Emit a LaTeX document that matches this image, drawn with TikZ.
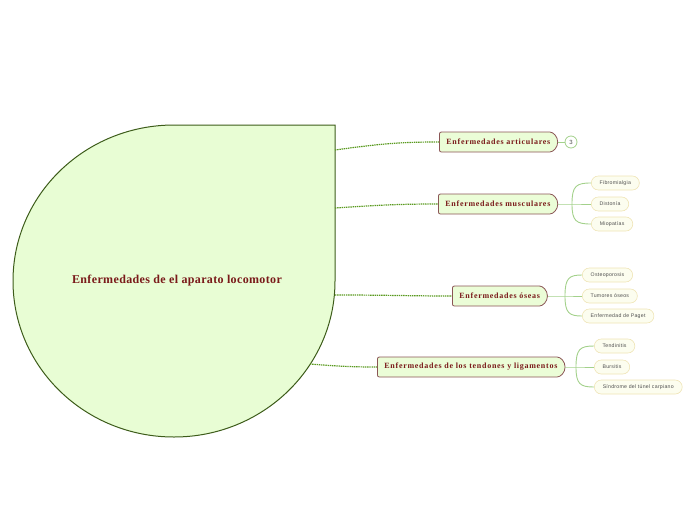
\documentclass[tikz,border=0pt]{standalone}
\usepackage{fontspec}
\setmainfont{Liberation Serif}
\newfontfamily\mainbold[LetterSpace=9]{Liberation Serif}
\newfontfamily\rootfont[LetterSpace=3]{Liberation Serif}
\newfontfamily\childfont[LetterSpace=5]{Liberation Sans}
\newfontfamily\countfont{Liberation Sans}
\usetikzlibrary{shapes.misc}
\definecolor{centerfill}{HTML}{E8FDD4}
\definecolor{centerline}{HTML}{3D5C1A}
\definecolor{textred}{HTML}{7A1A1A}
\definecolor{boxfill}{HTML}{EBFDD7}
\definecolor{boxline}{HTML}{8A5555}
\definecolor{dotgreen}{HTML}{5A9A20}
\definecolor{branchc}{HTML}{A3D18B}
\definecolor{childfill}{HTML}{FCFDEF}
\definecolor{childline}{HTML}{EFE4B5}
\definecolor{childtext}{HTML}{505050}
\begin{document}
\begin{tikzpicture}[x=1pt,y=-1pt,
  mainnode/.style={rounded rectangle, rounded rectangle left arc=none, rounded corners=2pt,
    draw=boxline, fill=boxfill,
    line width=0.8pt, minimum height=20pt, inner xsep=7pt, inner ysep=0pt, anchor=west,
    font=\mainbold\bfseries\fontsize{8}{9}\selectfont, text=textred},
  childnode/.style={rounded rectangle, draw=childline, fill=childfill, line width=0.6pt,
    minimum height=14pt, inner xsep=8pt, inner ysep=0pt, anchor=west,
    font=\childfont\fontsize{5.2}{6}\selectfont, text=childtext},
  dotlink/.style={draw=dotgreen, line width=1.2pt, dash pattern=on 1.4pt off 0.8pt},
  branch/.style={draw=branchc, line width=0.9pt},
  countnode/.style={circle, draw=branchc, fill=white, line width=0.8pt, minimum size=12pt,
    inner sep=0pt, font=\countfont\fontsize{6}{7}\selectfont, text=childtext}
]
\useasboundingbox (0,0) rectangle (696,520);
% central shape
\draw[fill=centerfill, draw=centerline, line width=1pt]
  (174,125) -- (335,125) -- (335,281) arc[start angle=0, end angle=270, x radius=161, y radius=156] -- cycle;
\node[font=\rootfont\bfseries\fontsize{12}{14}\selectfont, text=textred] (root) at (177,281) {Enfermedades de el aparato locomotor};
\coordinate (c1) at (335,150);
\coordinate (c2) at (335,208);
\coordinate (c3) at (335,295);
\coordinate (c4) at (310,364);

% main nodes
\node[mainnode] (art) at (439,142) {Enfermedades articulares};
\node[mainnode] (mus) at (438,204) {Enfermedades musculares};
\node[mainnode] (ose) at (452,296) {Enfermedades óseas};
\node[mainnode] (ten) at (377,367) {Enfermedades de los tendones y ligamentos};

% dotted links
\draw[dotlink] (c1) .. controls (385,143) and (405,142) .. (art.west);
\draw[dotlink] (c2) .. controls (380,205) and (400,204) .. (mus.west);
\draw[dotlink] (c3) .. controls (390,295) and (410,296) .. (ose.west);
\draw[dotlink] (c4) .. controls (335,366) and (350,367) .. (ten.west);

% count
\node[countnode] (cnt) at (571,142) {3};
\draw[branch] (art.east) -- (cnt.west);

% musculares children
\node[childnode] (fib) at (591,183) {Fibromialgia};
\node[childnode] (dis) at (591,204) {Distonía};
\node[childnode] (mio) at (591,224) {Miopatías};
\coordinate (jm) at (572,204);
\draw[branch] (mus.east) -- (jm) -- (dis.west);
\draw[branch] (jm) .. controls (572,186) and (576,183) .. (fib.west);
\draw[branch] (jm) .. controls (572,221) and (576,224) .. (mio.west);

% oseas children
\node[childnode] (ost) at (582,275) {Osteoporosis};
\node[childnode] (tum) at (582,296) {Tumores óseos};
\node[childnode] (pag) at (582,316) {Enfermedad de Paget};
\coordinate (jo) at (565,296);
\draw[branch] (ose.east) -- (jo) -- (tum.west);
\draw[branch] (jo) .. controls (565,278) and (569,275) .. (ost.west);
\draw[branch] (jo) .. controls (565,313) and (569,316) .. (pag.west);

% tendones children
\node[childnode] (tend) at (594,346) {Tendinitis};
\node[childnode] (bur) at (594,367) {Bursitis};
\node[childnode] (sin) at (594,387) {Síndrome del túnel carpiano};
\coordinate (jt) at (576,367);
\draw[branch] (ten.east) -- (jt) -- (bur.west);
\draw[branch] (jt) .. controls (576,349) and (580,346) .. (tend.west);
\draw[branch] (jt) .. controls (576,384) and (580,387) .. (sin.west);
\end{tikzpicture}
\end{document}
